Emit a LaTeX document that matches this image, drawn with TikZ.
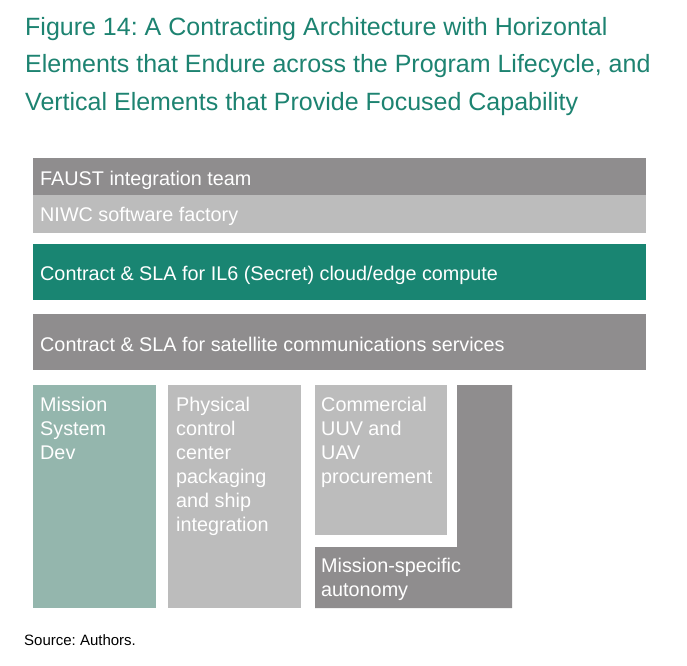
\documentclass[tikz,border=0pt]{standalone}
\usepackage{fontspec}
\setmainfont{Liberation Sans}
\frenchspacing
\definecolor{dgray}{HTML}{8F8D8E}
\definecolor{lgray}{HTML}{BCBCBC}
\definecolor{tealbar}{HTML}{198572}
\definecolor{sage}{HTML}{94B6AD}
\definecolor{titleteal}{HTML}{1D8371}
\begin{document}
\begin{tikzpicture}[x=1pt,y=-1pt,
  box/.style={draw=none,inner sep=0pt,outer sep=0pt,anchor=north west},
  lbl/.style={anchor=base west,inner sep=0pt,text=white,font=\fontsize{19.8}{24}\selectfont,align=left}]
\fill[white] (0,0) rectangle (687,665);
\useasboundingbox (0,0) rectangle (687,665);
% title (base anchor = baseline of last line)
\node[anchor=base west,inner sep=0pt,align=left,text=titleteal,font=\fontsize{25}{37.5}\selectfont] (title) at (25,110)
  {Figure 14: A Contracting Architecture with Horizontal\\Elements that Endure across the Program Lifecycle, and\\Vertical Elements that Provide Focused Capability};
% horizontal bars
\node[box,fill=dgray,minimum width=613pt,minimum height=37pt] (faust) at (33,158) {};
\node[box,fill=lgray,minimum width=613pt,minimum height=38pt] (niwc) at (33,195) {};
\node[box,fill=tealbar,minimum width=613pt,minimum height=56pt] (cloud) at (33,244) {};
\node[box,fill=dgray,minimum width=613pt,minimum height=56pt] (sat) at (33,314) {};
% vertical boxes
\node[box,fill=sage,minimum width=123pt,minimum height=223pt] (msd) at (33,385) {};
\node[box,fill=lgray,minimum width=133pt,minimum height=223pt] (phys) at (168,385) {};
\node[box,fill=lgray,minimum width=132pt,minimum height=150pt] (comm) at (315,385) {};
\fill[dgray] (315,547) -- (457,547) -- (457,385) -- (512,385) -- (512,608) -- (315,608) -- cycle;
% labels (base anchor = baseline of last line)
\node[lbl] (faustL) at (40,185) {FAUST integration team};
\node[lbl] (niwcL) at (40,221) {NIWC software factory};
\node[lbl] (cloudL) at (40,280) {Contract \& SLA for IL6 (Secret) cloud/edge compute};
\node[lbl] (satL) at (40,351) {Contract \& SLA for satellite communications services};
\node[lbl] (msdL) at (40,459.5) {Mission\\System\\Dev};
\node[lbl] (physL) at (176,531.5) {Physical\\control\\center\\packaging\\and ship\\integration};
\node[lbl] (commL) at (321,483.5) {Commercial\\UUV and\\UAV\\procurement};
\node[lbl] (autoL) at (321,596.5) {Mission-specific\\autonomy};
% source
\node[anchor=base west,inner sep=0pt,font=\fontsize{15}{18}\selectfont] (src) at (24,645) {Source: Authors.};
\end{tikzpicture}
\end{document}
